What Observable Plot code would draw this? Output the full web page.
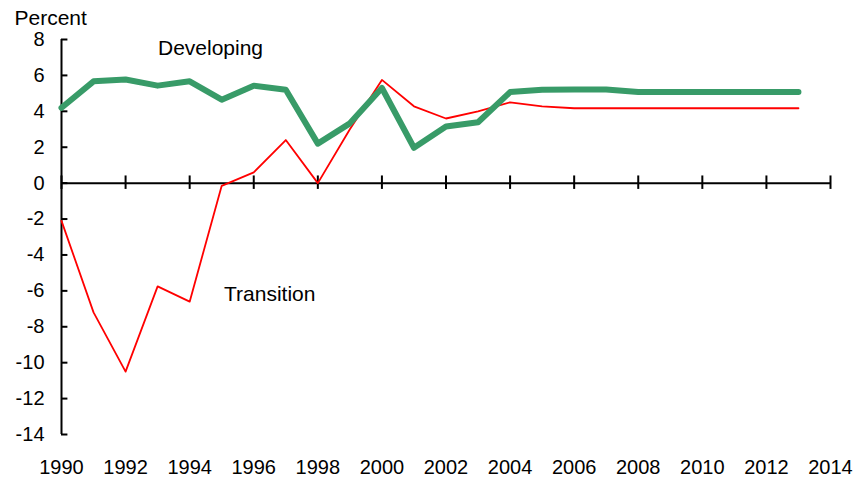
<!DOCTYPE html>
<html>
<head>
<meta charset="utf-8">
<script src="https://cdn.jsdelivr.net/npm/d3@7"></script>
<script src="https://cdn.jsdelivr.net/npm/@observablehq/plot@0.6"></script>
<style>
  html, body { margin: 0; padding: 0; background: #fff; }
  #chart svg { display: block; }
</style>
</head>
<body>
<div id="chart"></div>
<script>
const years = d3.range(1990, 2014);
const developing = [4.2, 5.67, 5.77, 5.43, 5.67, 4.65, 5.43, 5.2, 2.2, 3.33, 5.3, 1.97, 3.15, 3.39, 5.07, 5.2, 5.22, 5.22, 5.08, 5.08, 5.08, 5.08, 5.08, 5.08];
const transition = [-2.1, -7.2, -10.5, -5.75, -6.6, -0.15, 0.6, 2.4, 0.0, 3.0, 5.75, 4.28, 3.6, 4.0, 4.5, 4.28, 4.17, 4.17, 4.17, 4.17, 4.17, 4.17, 4.17, 4.17];
const xTicks = d3.range(1990, 2015, 2);
const yTicks = d3.range(-14, 9, 2);
const labelText = ["Developing", "Transition"];
const labelYear = [1994.65, 1996.5];
const labelValue = [7.5, -6.2];

const devData = years.map((y, i) => ({year: y, value: developing[i]}));
const trData = years.map((y, i) => ({year: y, value: transition[i]}));
const labels = labelText.map((t, i) => ({text: t, year: labelYear[i], value: labelValue[i]}));

const font = "'Liberation Sans', Arial, Helvetica, sans-serif";

const chart = Plot.plot({
  width: 857,
  height: 479,
  marginTop: 39,
  marginBottom: 45,
  marginLeft: 61,
  marginRight: 27,
  style: {fontFamily: font, fontSize: "20px", color: "#000", background: "#fff"},
  x: {domain: [1990, 2014]},
  y: {domain: [-14, 8]},
  marks: [
    Plot.axisY({ticks: yTicks, tickSize: 0, tickPadding: 17, label: null, fontSize: 20, tickFormat: d => `${d}`}),
    Plot.axisX({ticks: xTicks, tickSize: 0, tickPadding: 25, tickFormat: d => `${d}`, label: null, fontSize: 20}),
    Plot.ruleX([1990], {stroke: "#000", strokeWidth: 2}),
    Plot.ruleY(yTicks, {x1: 1990, x2: 1990.2, stroke: "#000", strokeWidth: 2}),
    Plot.ruleY([0], {stroke: "#000", strokeWidth: 2}),
    Plot.ruleX(xTicks, {y1: -0.35, y2: 0.4, stroke: "#000", strokeWidth: 2}),
    Plot.line(trData, {x: "year", y: "value", stroke: "#ff0000", strokeWidth: 1.8}),
    Plot.line(devData, {x: "year", y: "value", stroke: "#389b68", strokeWidth: 6, strokeLinecap: "round"}),
    Plot.text(labels, {x: "year", y: "value", text: "text", fontSize: 21, fill: "#000"}),
    Plot.text(["Percent"], {frameAnchor: "top-left", lineAnchor: "middle", dx: -47, dy: -21, textAnchor: "start", fontSize: 21, fill: "#000"})
  ]
});
document.getElementById("chart").appendChild(chart);
</script>
</body>
</html>
